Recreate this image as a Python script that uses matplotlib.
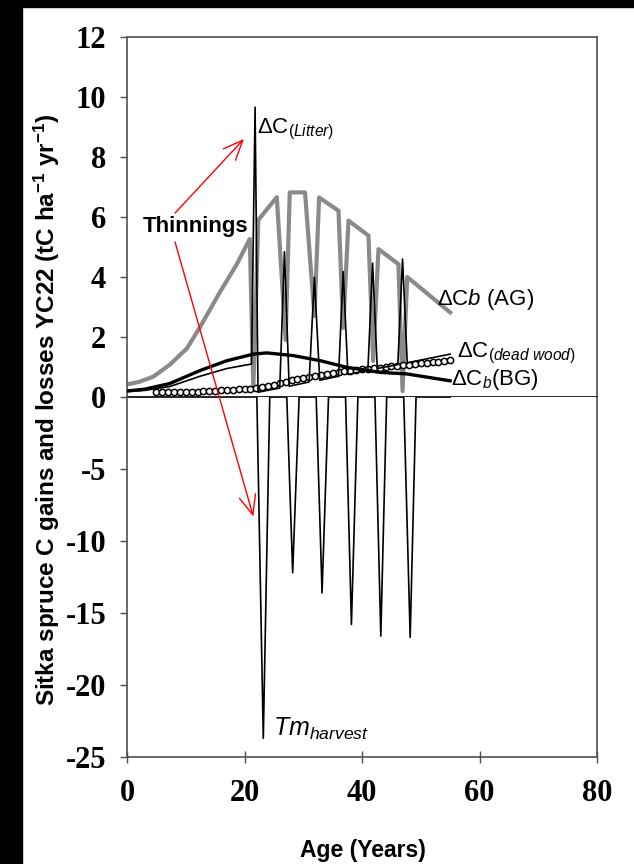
import matplotlib
matplotlib.use('Agg')
import matplotlib.pyplot as plt
from matplotlib.patches import Rectangle

plt.rcParams['axes.unicode_minus'] = False
plt.rcParams['mathtext.fontset'] = 'custom'
plt.rcParams['mathtext.rm'] = 'Liberation Sans'
plt.rcParams['mathtext.it'] = 'Liberation Sans:italic'
plt.rcParams['mathtext.bf'] = 'Liberation Sans:bold'

# aboveground biomass C gain (grey)
ag_age = [0, 2.0, 4.5, 7.3, 10.2, 12.4, 15.8, 18.7, 20.9, 21.5, 22.35, 25.5, 27.0, 27.7, 30.3, 31.9,
          32.7, 36.0, 36.8, 37.7, 41.1, 41.9, 42.8, 46.2, 46.9, 47.7, 55.0]
ag_val = [0.42, 0.50, 0.68, 1.08, 1.62, 2.32, 3.49, 4.43, 5.27, 0.30, 5.90, 6.66, 1.90, 6.82, 6.82, 2.70,
          6.65, 6.21, 2.30, 5.88, 5.38, 1.20, 4.93, 4.43, 0.20, 4.00, 2.82]

# belowground biomass C gain (thick black)
bg_age = [0, 3, 7.3, 12.4, 17.0, 21.5, 23.8, 28.3, 32.9, 37.4, 43.1, 47.6, 55.0]
bg_val = [0.20, 0.26, 0.45, 0.88, 1.21, 1.43, 1.47, 1.38, 1.21, 0.99, 0.82, 0.77, 0.54]

# litter C input (thin black)
lit_age = [0, 3, 7.3, 12.4, 17.0, 21.2, 21.8, 22.3, 26.0, 26.8, 27.6, 31.0, 31.9, 32.8, 36.0, 36.8, 37.6,
           41.0, 41.8, 42.6, 46.1, 46.9, 47.7, 55.0]
lit_val = [0.18, 0.22, 0.35, 0.69, 0.95, 1.10, 9.66, 0.16, 0.30, 4.84, 0.36, 0.50, 3.99, 0.56, 0.69, 4.18, 0.75,
           0.89, 4.46, 0.95, 1.08, 4.60, 1.14, 1.43]

# dead wood C (open circles)
dw_age = list(range(5, 56))
dw_val = [0.16, 0.16, 0.16, 0.17, 0.17, 0.17, 0.18, 0.18, 0.19, 0.20, 0.21, 0.22, 0.23, 0.24, 0.25, 0.26,
          0.28, 0.30, 0.33, 0.37, 0.41, 0.45, 0.50, 0.55, 0.59, 0.63, 0.66, 0.70, 0.73, 0.76, 0.79, 0.82,
          0.85, 0.88, 0.90, 0.92, 0.94, 0.96, 0.98, 1.00, 1.02, 1.04, 1.06, 1.08, 1.10, 1.12, 1.14, 1.16,
          1.18, 1.20, 1.22]

# harvest removals (negative)
hv_age = [0, 22.1, 23.2, 24.3, 27.2, 28.2, 29.3, 32.2, 33.2, 34.3, 37.2, 38.2, 39.3, 42.2, 43.2, 44.2,
          47.1, 48.2, 49.2, 55.0]
hv_val = [0, 0, -23.7, 0, 0, -12.2, 0, 0, -13.6, 0, 0, -15.8, 0, 0, -16.6, 0, 0, -16.7, 0, 0]

top_ticks = [0, 2, 4, 6, 8, 10, 12]
bot_ticks = [-25, -20, -15, -10, -5]
x_ticks = [0, 20, 40, 60, 80]

W, H = 634, 864
fig = plt.figure(figsize=(W / 100, H / 100), dpi=100)
left, right = 127 / W, 597 / W
y12, y0, y25 = 37, 397, 757
ax1 = fig.add_axes([left, 1 - y0 / H, right - left, (y0 - y12) / H])
ax2 = fig.add_axes([left, 1 - y25 / H, right - left, (y25 - y0) / H])

spc = '#505050'
for ax in (ax1, ax2):
    ax.set_xlim(0, 80)
    for s in ax.spines.values():
        s.set_color(spc)
        s.set_linewidth(1.2)
ax2.spines['top'].set_visible(False)
ax1.spines['bottom'].set_color('black')

tfont = dict(family='Liberation Serif', weight='bold', size=22)
ax1.set_ylim(0, 12)
ax1.set_yticks(top_ticks)
ax1.set_yticklabels([str(t) for t in top_ticks], **tfont)
ax1.tick_params(axis='x', bottom=False, labelbottom=False)
ax1.tick_params(axis='y', direction='out', length=5, width=1, color=spc, pad=10)

ax2.set_ylim(-25, 0)
ax2.set_yticks(bot_ticks)
ax2.set_yticklabels([str(t) for t in bot_ticks], **tfont)
ax2.set_xticks(x_ticks)
ax2.set_xticklabels([str(t) for t in x_ticks], **tfont)
ax2.tick_params(axis='y', direction='out', length=5, width=1, color=spc, pad=10)
ax2.tick_params(axis='x', direction='inout', length=8, width=1, color=spc, pad=12)

ax1.plot(dw_age, dw_val, color='black', lw=0.8, marker='o', ms=4.5, mfc='white', mec='black', mew=1.1, zorder=3)
ax1.plot(bg_age, bg_val, color='black', lw=2.4, zorder=4)
ax1.plot(ag_age, ag_val, color='#8a8a8a', lw=3, zorder=2)
ax1.plot(lit_age, lit_val, color='black', lw=1.2, zorder=5)
ax2.plot(hv_age, hv_val, color='black', lw=1.2)

sfont = dict(family='Liberation Sans', size=16, color='black')
ax1.text(22.2, 8.8, 'ΔC$_{\\mathit{(Litter)}}$', ha='left', va='baseline', **sfont)
ax1.text(11.6, 5.68, 'Thinnings', ha='center', va='center', family='Liberation Sans', weight='bold', size=16)
ax1.text(52.7, 3.07, 'ΔC$\\mathit{b}$ (AG)', ha='left', va='baseline', **sfont)
ax1.text(56.1, 1.32, 'ΔC$_{\\mathit{(dead\\ wood)}}$', ha='left', va='baseline', **sfont)
ax1.text(55.15, 0.4, 'ΔC$_{\\mathit{b}}$(BG)', ha='left', va='baseline', **sfont)
ax2.text(24.9, -23.5, '$\\mathit{Tm}_{\\mathit{harvest}}$', ha='left', va='baseline', family='Liberation Sans', size=18)

arr = dict(arrowstyle='->,head_length=0.7,head_width=0.3', color='red', lw=1, shrinkA=0, shrinkB=0,
           mutation_scale=20)
ax1.annotate('', xy=(19.9, 8.6), xytext=(8.17, 6.13), arrowprops=arr, annotation_clip=False)
ax2.annotate('', xy=(21.5, -8.3), xycoords='data', xytext=(8.17, 5.17), textcoords=ax1.transData,
             arrowprops=arr, annotation_clip=False)

fig.text(47 / W, 1 - 410 / H, 'Sitka spruce C gains and losses YC22 (tC ha$^{\\mathbf{-1}}$ yr$^{\\mathbf{-1}}$)',
         rotation=90, ha='center', va='center', family=['Liberation Sans Narrow', 'Liberation Sans'],
         weight='bold', size=17.5)
fig.text(363 / W, 1 - 851 / H, 'Age (Years)', ha='center', va='center', family='Liberation Sans',
         weight='bold', size=16.5)

fig.add_artist(Rectangle((0, 0), 22 / W, 1, transform=fig.transFigure, color='black', zorder=10))
fig.add_artist(Rectangle((0, 1 - 7 / H), 1, 7 / H, transform=fig.transFigure, color='black', zorder=10))

fig.savefig('out.png', dpi=100)
